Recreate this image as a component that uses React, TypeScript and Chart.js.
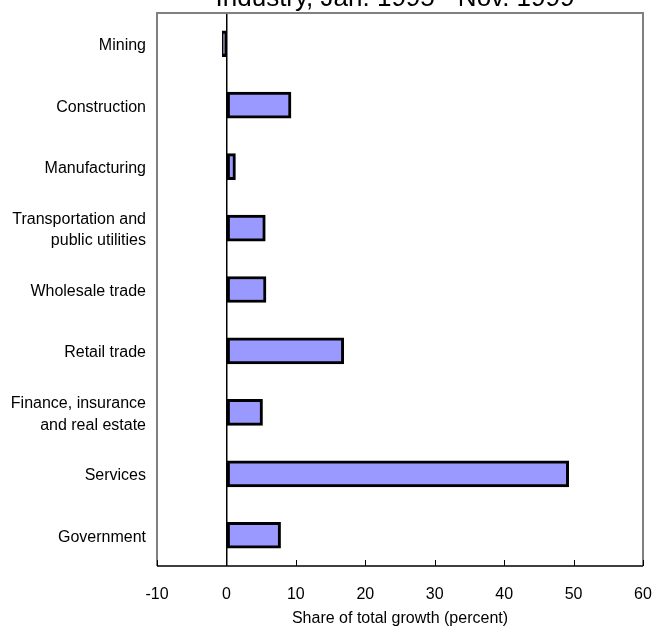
import React, { useEffect, useRef } from "react";
import { Chart, registerables } from "chart.js";

Chart.register(...registerables);

const categories: (string | string[])[] = [
  "Mining",
  "Construction",
  "Manufacturing",
  ["Transportation and", "public utilities"],
  "Wholesale trade",
  "Retail trade",
  ["Finance, insurance", "and real estate"],
  "Services",
  "Government",
];
const shareValues = [-0.6, 9.3, 1.3, 5.6, 5.7, 16.9, 5.2, 49.3, 7.8];
const titleText = "Industry, Jan. 1995 - Nov. 1999";
const axisTitle = "Share of total growth (percent)";
const xMin = -10;
const xMax = 60;
const xStep = 10;

const FONT = "'Liberation Sans', Arial, sans-serif";

const framePlugin = {
  id: "frame",
  afterDraw(chart: any) {
    const { ctx, chartArea } = chart;
    const { left, right, top, bottom } = chartArea;
    const xs = chart.scales.x;
    ctx.save();
    ctx.strokeStyle = "#808080";
    ctx.lineWidth = 2;
    ctx.beginPath();
    ctx.moveTo(left, bottom);
    ctx.lineTo(left, top);
    ctx.lineTo(right, top);
    ctx.lineTo(right, bottom);
    ctx.stroke();
    ctx.strokeStyle = "#000";
    ctx.lineWidth = 1.5;
    ctx.beginPath();
    ctx.moveTo(left, bottom);
    ctx.lineTo(right, bottom);
    ctx.stroke();
    ctx.lineWidth = 1;
    for (let v = xMin; v <= xMax; v += xStep) {
      const px = Math.round(xs.getPixelForValue(v)) + 0.5;
      ctx.beginPath();
      ctx.moveTo(px, bottom);
      ctx.lineTo(px, bottom - 6);
      ctx.stroke();
    }
    ctx.fillStyle = "#000";
    ctx.font = `26px ${FONT}`;
    ctx.textAlign = "center";
    ctx.textBaseline = "alphabetic";
    ctx.fillText(titleText, (left + right) / 2 - 5, top - 7);
    ctx.restore();
  },
};

export default function App() {
  const ref = useRef<HTMLCanvasElement | null>(null);
  useEffect(() => {
    if (!ref.current) return;
    const chart = new Chart(ref.current, {
      type: "bar",
      data: {
        labels: categories,
        datasets: [
          {
            data: shareValues,
            backgroundColor: "#9999FF",
            borderColor: "#000000",
            borderWidth: 3,
            borderSkipped: false,
            barThickness: 26,
          },
        ],
      },
      options: {
        indexAxis: "y",
        animation: false,
        responsive: false,
        maintainAspectRatio: false,
        layout: { padding: { top: 21, right: 9, left: 0, bottom: 0 } },
        plugins: {
          legend: { display: false },
          tooltip: { enabled: false },
          title: { display: false },
        },
        scales: {
          x: {
            min: xMin,
            max: xMax,
            ticks: {
              stepSize: xStep,
              color: "#000",
              padding: 19,
              font: { family: FONT, size: 16 },
            },
            grid: {
              drawTicks: false,
              color: (c: any) => (c.tick && c.tick.value === 0 ? "#000" : "rgba(0,0,0,0)"),
              lineWidth: 1.5,
            },
            border: { display: false },
            title: {
              display: true,
              text: axisTitle,
              color: "#000",
              font: { family: FONT, size: 16 },
              padding: { top: 0, bottom: 4 },
            },
            afterFit: (s: any) => {
              s.height = 66;
              s.paddingLeft = 0;
              s.paddingRight = 0;
            },
          },
          y: {
            ticks: {
              color: "#000",
              padding: 11,
              labelOffset: 2,
              font: { family: FONT, size: 16, lineHeight: 1.35 },
            },
            grid: { display: false, drawTicks: false },
            border: { display: false },
            afterFit: (s: any) => {
              s.width = 157;
              s.paddingTop = 0;
              s.paddingBottom = 0;
            },
          },
        },
      },
      plugins: [framePlugin],
    });
    return () => chart.destroy();
  }, []);
  return (
    <div style={{ position: "fixed", top: -8, left: 0 }}>
      <canvas ref={ref} width={652} height={640} style={{ display: "block" }} />
    </div>
  );
}
